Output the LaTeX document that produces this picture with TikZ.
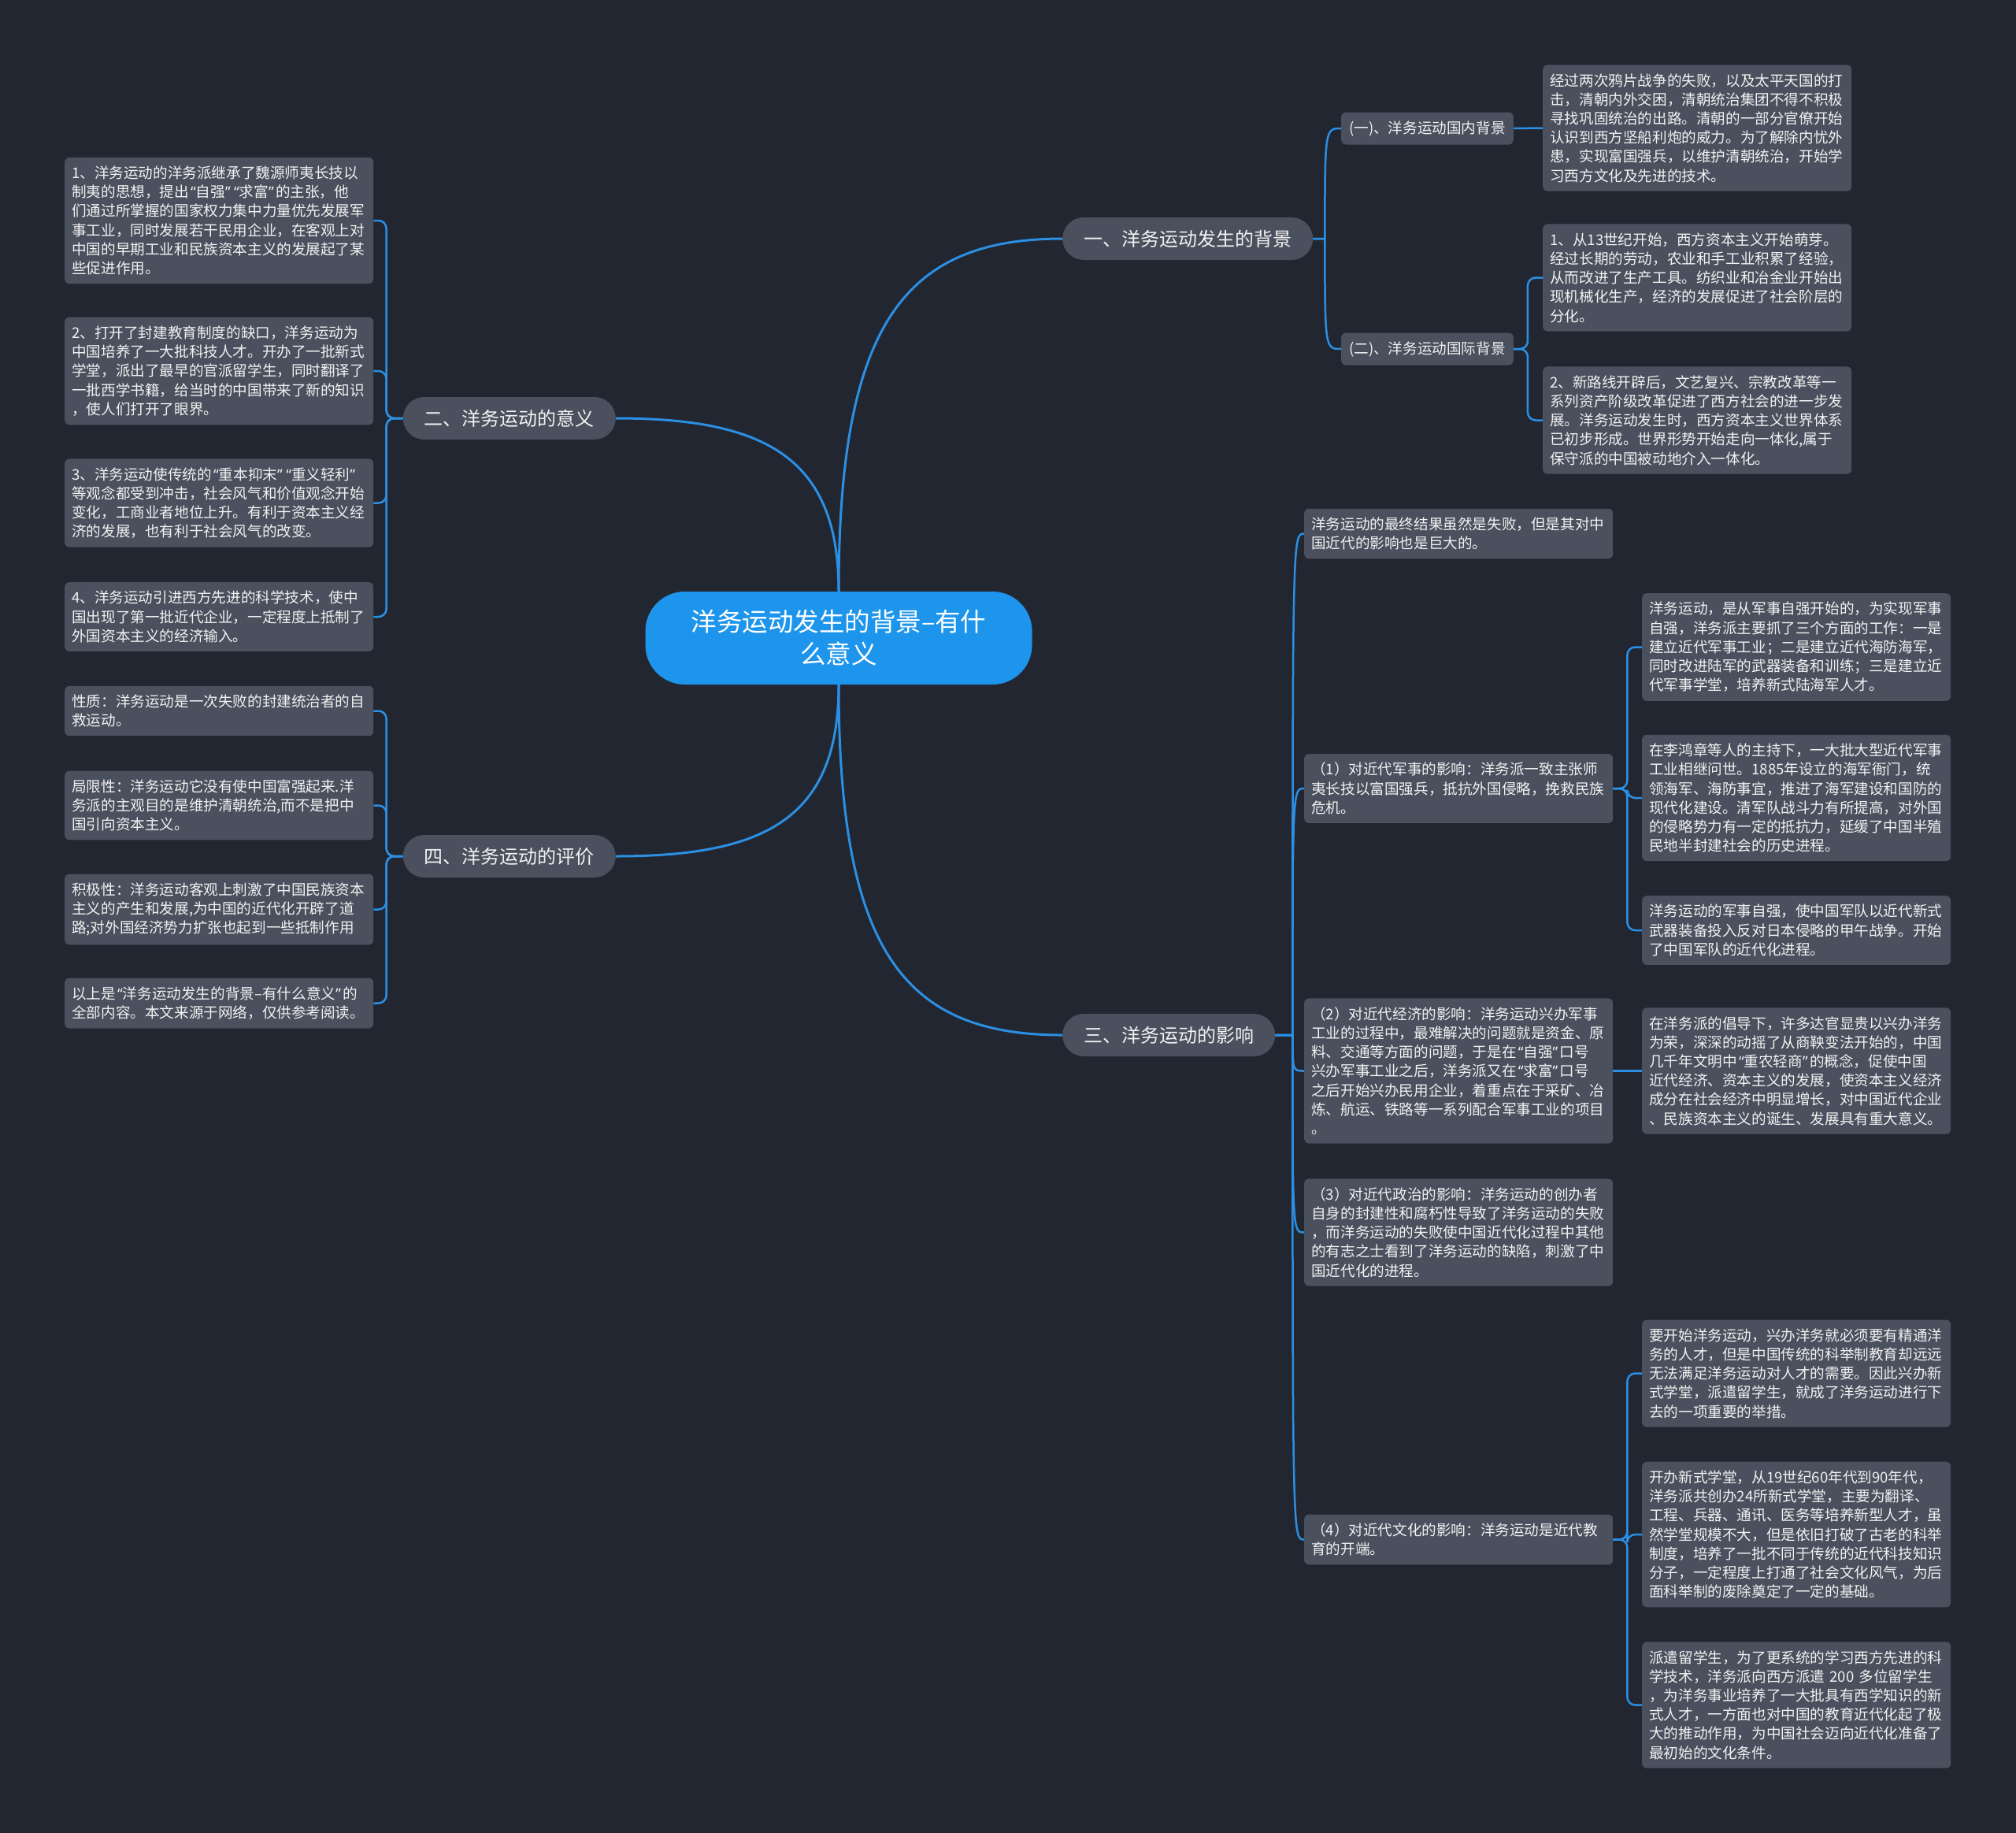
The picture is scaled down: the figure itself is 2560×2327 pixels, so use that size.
\documentclass[tikz,border=0pt]{standalone}
\usepackage{fontspec}
\setmainfont{Noto Sans CJK SC}
\newfontfamily\quotefont{Noto Sans}
\newcommand{\lqt}{\hspace{0.12em}{\quotefont “}}
\newcommand{\rqt}{{\quotefont ”}\hspace{0.12em}}
\definecolor{bgnavy}{HTML}{222631}
\definecolor{cardgray}{HTML}{4A505E}
\definecolor{fglight}{HTML}{F2F2F2}
\definecolor{rootblue}{HTML}{1E95EC}
\definecolor{wireblue}{HTML}{2B8FE3}
\usetikzlibrary{calc}

\begin{document}
\begin{tikzpicture}[
  x=1pt, y=-1pt,
  rootbox/.style={rectangle, rounded corners=50pt, fill=rootblue, text=white, text width=400pt, align=center, inner xsep=45.5pt, inner ysep=10pt, minimum height=118pt, font=\fontsize{32.5}{41}\selectfont},
  branchbox/.style={rectangle, rounded corners=27pt, fill=cardgray, text=fglight, inner xsep=27pt, inner ysep=0pt, minimum height=54pt, font=\fontsize{24}{28}\selectfont},
  subbox/.style={rectangle, rounded corners=6pt, fill=cardgray, text=fglight, inner xsep=10pt, inner ysep=0pt, minimum height=41pt, font=\fontsize{18.6}{24.2}\selectfont},
  leafbox/.style={rectangle, rounded corners=6pt, fill=cardgray, text=fglight, text width=374pt, align=left, inner xsep=9pt, inner ysep=11pt, font=\fontsize{18.6}{24.2}\selectfont},
  trunk/.style={wireblue, line width=3pt},
  wire/.style={wireblue, line width=2.5pt},
  bracket/.style={wire, rounded corners=10pt},
]
  \fill[bgnavy] (0,0) rectangle (2560,2327);

  % Centre and main branches
  \node[rootbox] (root) at (1065,810) {\mbox{洋务运动发生的背景–有什}\\么意义};
  \node[branchbox, anchor=west] (b1) at (1349,303) {一、洋务运动发生的背景};
  \node[branchbox, anchor=east] (b2) at (782,531) {二、洋务运动的意义};
  \node[branchbox, anchor=west] (b3) at (1349,1314) {三、洋务运动的影响};
  \node[branchbox, anchor=east] (b4) at (782,1087) {四、洋务运动的评价};

  \draw[trunk] (root.north) .. controls +(0,-340) and +(-200,0) .. (b1.west);
  \draw[trunk] (root.north) .. controls +(0,-170) and +(190,0) .. (b2.east);
  \draw[trunk] (root.south) .. controls +(0,340) and +(-200,0) .. (b3.west);
  \draw[trunk] (root.south) .. controls +(0,170) and +(190,0) .. (b4.east);

  % Background
  \node[subbox, anchor=west] (s1) at (1703,163) {(一)、洋务运动国内背景};
  \node[subbox, anchor=west] (s2) at (1703,443) {(二)、洋务运动国际背景};
  \node[leafbox, anchor=west] (d1) at (1959,162.5) {经过两次鸦片战争的失败，以及太平天国的打\\击，清朝内外交困，清朝统治集团不得不积极\\寻找巩固统治的出路。清朝的一部分官僚开始\\认识到西方坚船利炮的威力。为了解除内忧外\\患，实现富国强兵，以维护清朝统治，开始学\\习西方文化及先进的技术。};
  \node[leafbox, anchor=west] (d2) at (1959,352.5) {1、从13世纪开始，西方资本主义开始萌芽。\\经过长期的劳动，农业和手工业积累了经验，\\从而改进了生产工具。纺织业和冶金业开始出\\现机械化生产，经济的发展促进了社会阶层的\\分化。};
  \node[leafbox, anchor=west] (d3) at (1959,533.5) {2、新路线开辟后，文艺复兴、宗教改革等一\\系列资产阶级改革促进了西方社会的进一步发\\展。洋务运动发生时，西方资本主义世界体系\\已初步形成。世界形势开始走向一体化,属于\\保守派的中国被动地介入一体化。};

  \coordinate (f1) at ($(b1.east)+(15,0)$);
  \draw[wire] (b1.east) -- (f1) .. controls (f1 |- s1.west) .. (s1.west);
  \draw[wire] (b1.east) -- (f1) .. controls (f1 |- s2.west) .. (s2.west);
  \draw[wire] (s1.east) -- (d1.west);
  \draw[bracket] (s2.east) -- ++(18,0) |- (d2.west);
  \draw[bracket] (s2.east) -- ++(18,0) |- (d3.west);

  % Significance
  \node[leafbox, anchor=west] (l1) at (82,280) {1、洋务运动的洋务派继承了魏源师夷长技以\\制夷的思想，提出\lqt 自强\rqt\lqt 求富\rqt 的主张，他\\们通过所掌握的国家权力集中力量优先发展军\\事工业，同时发展若干民用企业，在客观上对\\中国的早期工业和民族资本主义的发展起了某\\些促进作用。};
  \node[leafbox, anchor=west] (l2) at (82,471) {2、打开了封建教育制度的缺口，洋务运动为\\中国培养了一大批科技人才。开办了一批新式\\学堂，派出了最早的官派留学生，同时翻译了\\一批西学书籍，给当时的中国带来了新的知识\\，使人们打开了眼界。};
  \node[leafbox, anchor=west] (l3) at (82,638.5) {\mbox{3、洋务运动使传统的\lqt 重本抑末\rqt\lqt 重义轻利\rqt}\\等观念都受到冲击，社会风气和价值观念开始\\变化，工商业者地位上升。有利于资本主义经\\济的发展，也有利于社会风气的改变。};
  \node[leafbox, anchor=west] (l4) at (82,783) {4、洋务运动引进西方先进的科学技术，使中\\国出现了第一批近代企业，一定程度上抵制了\\外国资本主义的经济输入。};

  \draw[bracket] (b2.west) -- ++(-21,0) |- (l1.east);
  \draw[bracket] (b2.west) -- ++(-21,0) |- (l2.east);
  \draw[bracket] (b2.west) -- ++(-21,0) |- (l3.east);
  \draw[bracket] (b2.west) -- ++(-21,0) |- (l4.east);

  % Evaluation
  \node[leafbox, anchor=west] (e1) at (82,902.5) {性质：洋务运动是一次失败的封建统治者的自\\救运动。};
  \node[leafbox, anchor=west] (e2) at (82,1022.5) {局限性：洋务运动它没有使中国富强起来.洋\\务派的主观目的是维护清朝统治,而不是把中\\国引向资本主义。};
  \node[leafbox, anchor=west] (e3) at (82,1154.5) {积极性：洋务运动客观上刺激了中国民族资本\\主义的产生和发展,为中国的近代化开辟了道\\路;对外国经济势力扩张也起到一些抵制作用};
  \node[leafbox, anchor=west] (e4) at (82,1273.5) {\mbox{以上是\lqt 洋务运动发生的背景–有什么意义\rqt 的}\\全部内容。本文来源于网络，仅供参考阅读。};

  \draw[bracket] (b4.west) -- ++(-21,0) |- (e1.east);
  \draw[bracket] (b4.west) -- ++(-21,0) |- (e2.east);
  \draw[bracket] (b4.west) -- ++(-21,0) |- (e3.east);
  \draw[bracket] (b4.west) -- ++(-21,0) |- (e4.east);

  % Influence
  \node[leafbox, anchor=west] (r0) at (1656,677.5) {洋务运动的最终结果虽然是失败，但是其对中\\国近代的影响也是巨大的。};
  \node[leafbox, anchor=west] (r1) at (1656,1001) {（1）对近代军事的影响：洋务派一致主张师\\夷长技以富国强兵，抵抗外国侵略，挽救民族\\危机。};
  \node[leafbox, anchor=west] (r2) at (1656,1359.5) {（2）对近代经济的影响：洋务运动兴办军事\\工业的过程中，最难解决的问题就是资金、原\\料、交通等方面的问题，于是在\lqt 自强\rqt 口号\\兴办军事工业之后，洋务派又在\lqt 求富\rqt 口号\\之后开始兴办民用企业，着重点在于采矿、冶\\炼、航运、铁路等一系列配合军事工业的项目\\。};
  \node[leafbox, anchor=west] (r3) at (1656,1564.5) {（3）对近代政治的影响：洋务运动的创办者\\自身的封建性和腐朽性导致了洋务运动的失败\\，而洋务运动的失败使中国近代化过程中其他\\的有志之士看到了洋务运动的缺陷，刺激了中\\国近代化的进程。};
  \node[leafbox, anchor=west] (r4) at (1656,1954.5) {（4）对近代文化的影响：洋务运动是近代教\\育的开端。};

  \coordinate (f3) at ($(b3.east)+(22,0)$);
  \draw[wire] (b3.east) -- (f3) .. controls (f3 |- r0.west) .. (r0.west);
  \draw[wire] (b3.east) -- (f3) .. controls (f3 |- r1.west) .. (r1.west);
  \draw[wire] (b3.east) -- (f3) .. controls (f3 |- r2.west) .. (r2.west);
  \draw[wire] (b3.east) -- (f3) .. controls (f3 |- r3.west) .. (r3.west);
  \draw[wire] (b3.east) -- (f3) .. controls (f3 |- r4.west) .. (r4.west);

  % Military
  \node[leafbox, anchor=west] (r1a) at (2085,821.5) {洋务运动，是从军事自强开始的，为实现军事\\自强，洋务派主要抓了三个方面的工作：一是\\建立近代军事工业；二是建立近代海防海军，\\同时改进陆军的武器装备和训练；三是建立近\\代军事学堂，培养新式陆海军人才。};
  \node[leafbox, anchor=west] (r1b) at (2085,1013) {在李鸿章等人的主持下，一大批大型近代军事\\工业相继问世。1885年设立的海军衙门，统\\领海军、海防事宜，推进了海军建设和国防的\\现代化建设。清军队战斗力有所提高，对外国\\的侵略势力有一定的抵抗力，延缓了中国半殖\\民地半封建社会的历史进程。};
  \node[leafbox, anchor=west] (r1c) at (2085,1181) {洋务运动的军事自强，使中国军队以近代新式\\武器装备投入反对日本侵略的甲午战争。开始\\了中国军队的近代化进程。};

  \draw[bracket] (r1.east) -- ++(18,0) |- (r1a.west);
  \draw[bracket] (r1.east) -- ++(18,0) |- (r1b.west);
  \draw[bracket] (r1.east) -- ++(18,0) |- (r1c.west);

  % Economy
  \node[leafbox, anchor=west] (r2a) at (2085,1359.5) {在洋务派的倡导下，许多达官显贵以兴办洋务\\为荣，深深的动摇了从商鞅变法开始的，中国\\几千年文明中\lqt 重农轻商\rqt 的概念，促使中国\\近代经济、资本主义的发展，使资本主义经济\\成分在社会经济中明显增长，对中国近代企业\\、民族资本主义的诞生、发展具有重大意义。};
  \draw[wire] (r2.east) -- (r2a.west);

  % Culture
  \node[leafbox, anchor=west] (r4a) at (2085,1743.5) {要开始洋务运动，兴办洋务就必须要有精通洋\\务的人才，但是中国传统的科举制教育却远远\\无法满足洋务运动对人才的需要。因此兴办新\\式学堂，派遣留学生，就成了洋务运动进行下\\去的一项重要的举措。};
  \node[leafbox, anchor=west] (r4b) at (2085,1948) {开办新式学堂，从19世纪60年代到90年代，\\洋务派共创办24所新式学堂，主要为翻译、\\工程、兵器、通讯、医务等培养新型人才，虽\\然学堂规模不大，但是依旧打破了古老的科举\\制度，培养了一批不同于传统的近代科技知识\\分子，一定程度上打通了社会文化风气，为后\\面科举制的废除奠定了一定的基础。};
  \node[leafbox, anchor=west] (r4c) at (2085,2164.5) {派遣留学生，为了更系统的学习西方先进的科\\学技术，洋务派向西方派遣 200 多位留学生\\，为洋务事业培养了一大批具有西学知识的新\\式人才，一方面也对中国的教育近代化起了极\\大的推动作用，为中国社会迈向近代化准备了\\最初始的文化条件。};

  \draw[bracket] (r4.east) -- ++(18,0) |- (r4a.west);
  \draw[bracket] (r4.east) -- ++(18,0) |- (r4b.west);
  \draw[bracket] (r4.east) -- ++(18,0) |- (r4c.west);
\end{tikzpicture}
\end{document}
